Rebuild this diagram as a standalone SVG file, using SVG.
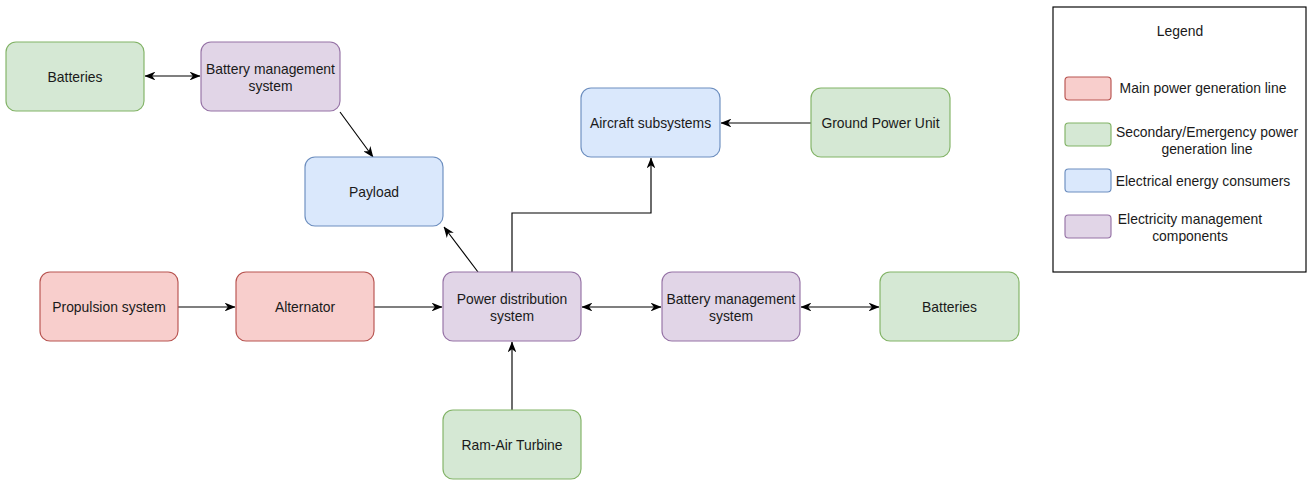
<svg xmlns="http://www.w3.org/2000/svg" width="1309" height="482" viewBox="0 0 1309 482">
  <style>
    text { font-family: "Liberation Sans", Arial, sans-serif; font-size: 13.9px; fill: #1a1a1a; text-anchor: middle; }
    .red { fill: #f8cecc; stroke: #b85450; stroke-width: 1.15; }
    .green { fill: #d5e8d4; stroke: #82b366; stroke-width: 1.15; }
    .blue { fill: #dae8fc; stroke: #6c8ebf; stroke-width: 1.15; }
    .purple { fill: #e1d5e7; stroke: #9673a6; stroke-width: 1.15; }
    .edge { fill: none; stroke: #000; stroke-width: 1.15; }
  </style>
  <defs>
    <marker id="arrow" viewBox="0 0 10 8" refX="9.5" refY="4" markerWidth="11" markerHeight="8.8" markerUnits="userSpaceOnUse" orient="auto-start-reverse">
      <path d="M0,0 L10,4 L0,8 L3,4 z" fill="#000"/>
    </marker>
  </defs>

  <!-- connectors -->
  <g id="connectors">
    <path class="edge" d="M145,76 L200,76" marker-start="url(#arrow)" marker-end="url(#arrow)"/>
    <path class="edge" d="M340,112 L373,157" marker-end="url(#arrow)"/>
    <path class="edge" d="M478,272 L444,227" marker-end="url(#arrow)"/>
    <path class="edge" d="M512,272 L512,213 L651,213 L651,158" marker-end="url(#arrow)"/>
    <path class="edge" d="M811,123 L721,123" marker-end="url(#arrow)"/>
    <path class="edge" d="M178,307 L235,307" marker-end="url(#arrow)"/>
    <path class="edge" d="M374,307 L442,307" marker-end="url(#arrow)"/>
    <path class="edge" d="M582,307 L661,307" marker-start="url(#arrow)" marker-end="url(#arrow)"/>
    <path class="edge" d="M801,307 L879,307" marker-start="url(#arrow)" marker-end="url(#arrow)"/>
    <path class="edge" d="M512,410 L512,342" marker-end="url(#arrow)"/>
  </g>

  <!-- nodes -->
  <g id="batteries-top">
    <rect class="green" x="6" y="42" width="138" height="69" rx="10"/>
    <text x="75" y="81.5">Batteries</text>
  </g>
  <g id="bms-top">
    <rect class="purple" x="201" y="42" width="139" height="69" rx="10"/>
    <text x="270.5" y="73.5">Battery management</text>
    <text x="270.5" y="90.5">system</text>
  </g>
  <g id="payload">
    <rect class="blue" x="305" y="157" width="138" height="69" rx="10"/>
    <text x="374" y="196.5">Payload</text>
  </g>
  <g id="aircraft-subsystems">
    <rect class="blue" x="581" y="88" width="139" height="69" rx="10"/>
    <text x="650.5" y="127.5">Aircraft subsystems</text>
  </g>
  <g id="ground-power-unit">
    <rect class="green" x="811" y="88" width="139" height="69" rx="10"/>
    <text x="880.5" y="127.5">Ground Power Unit</text>
  </g>
  <g id="propulsion-system">
    <rect class="red" x="40" y="272" width="138" height="69" rx="10"/>
    <text x="109" y="311.5">Propulsion system</text>
  </g>
  <g id="alternator">
    <rect class="red" x="236" y="272" width="138" height="69" rx="10"/>
    <text x="305" y="311.5">Alternator</text>
  </g>
  <g id="power-distribution">
    <rect class="purple" x="443" y="272" width="138" height="69" rx="10"/>
    <text x="512" y="303.5">Power distribution</text>
    <text x="512" y="320.5">system</text>
  </g>
  <g id="bms-right">
    <rect class="purple" x="662" y="272" width="138" height="69" rx="10"/>
    <text x="731" y="303.5">Battery management</text>
    <text x="731" y="320.5">system</text>
  </g>
  <g id="batteries-right">
    <rect class="green" x="880" y="272" width="139" height="69" rx="10"/>
    <text x="949.5" y="311.5">Batteries</text>
  </g>
  <g id="ram-air-turbine">
    <rect class="green" x="443" y="410" width="138" height="69" rx="10"/>
    <text x="512" y="449.5">Ram-Air Turbine</text>
  </g>

  <!-- legend -->
  <g id="legend">
    <rect x="1053" y="7" width="253" height="265" fill="#fff" stroke="#000" stroke-width="1.15"/>
    <text x="1180" y="36">Legend</text>
    <rect class="red" x="1065" y="77" width="46" height="23" rx="3.5"/>
    <text x="1203" y="93">Main power generation line</text>
    <rect class="green" x="1065" y="123" width="46" height="23" rx="3.5"/>
    <text x="1207" y="137">Secondary/Emergency power</text>
    <text x="1207" y="154">generation line</text>
    <rect class="blue" x="1065" y="169" width="46" height="23" rx="3.5"/>
    <text x="1203" y="186">Electrical energy consumers</text>
    <rect class="purple" x="1065" y="215" width="46" height="23" rx="3.5"/>
    <text x="1190" y="224">Electricity management</text>
    <text x="1190" y="241">components</text>
  </g>
</svg>
